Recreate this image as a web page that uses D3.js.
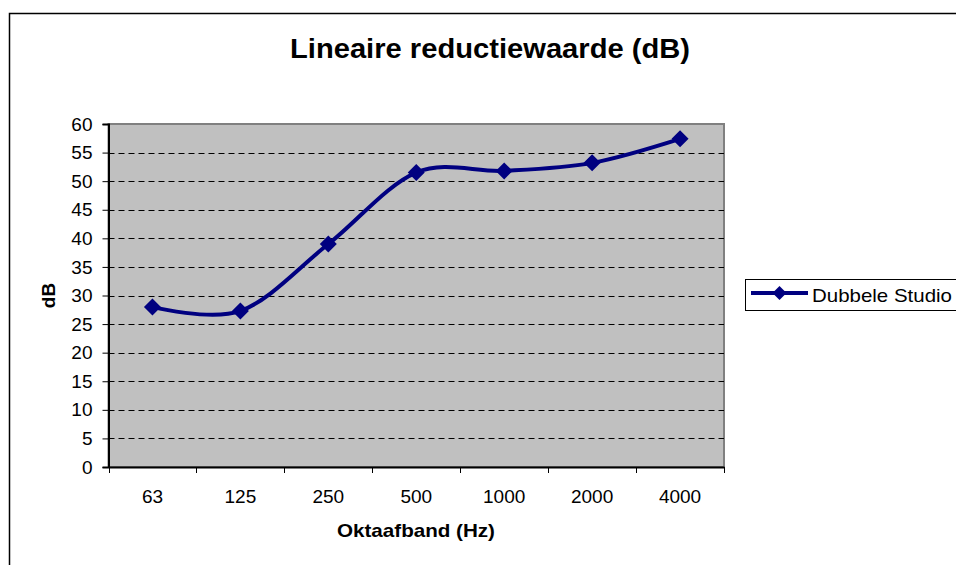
<!DOCTYPE html>
<html><head><meta charset="utf-8">
<script src="https://cdn.jsdelivr.net/npm/d3@7"></script>
<style>body{margin:0;background:#fff}svg{display:block}text{font-family:"Liberation Sans",Arial,sans-serif}</style>
</head><body>
<script>
const categories = ["63","125","250","500","1000","2000","4000"];
const values = [28, 27.3, 39, 51.5, 51.8, 53.2, 57.4];
const yTicks = [0,5,10,15,20,25,30,35,40,45,50,55,60];
const seriesName = "Dubbele Studio";
const title = "Lineaire reductiewaarde (dB)";
const xTitle = "Oktaafband (Hz)";
const yTitle = "dB";

const W = 956, H = 565;
const FONT = "Liberation Sans, Arial, sans-serif";
const svg = d3.select("body").append("svg").attr("width", W).attr("height", H);
svg.append("rect").attr("x",9.5).attr("y",13.5).attr("width",980).attr("height",600)
  .attr("fill","#fff").attr("stroke","#000").attr("stroke-width",1.5);

const L = 108.5, R = 724, T = 124, B = 467;
const x = d3.scaleBand().domain(categories).range([L, R]).padding(0);
const y = d3.scaleLinear().domain([0,60]).range([B, T]);

svg.append("rect").attr("x",L).attr("y",T).attr("width",R-L).attr("height",B-T)
  .attr("fill","#C0C0C0").attr("stroke","#808080").attr("stroke-width",2);

// grid
svg.append("g").selectAll("line").data(yTicks.filter(d=>d>0 && d<60)).join("line")
  .attr("x1",L).attr("x2",R).attr("y1",d=>Math.round(y(d))+0.5).attr("y2",d=>Math.round(y(d))+0.5)
  .attr("stroke","#000").attr("stroke-width",1).attr("stroke-dasharray","6,4");

// y axis
const ya = svg.append("g").attr("transform",`translate(${L},0)`)
  .call(d3.axisLeft(y).tickValues(yTicks).tickSize(6).tickPadding(10));
ya.select(".domain").attr("stroke","#000").attr("stroke-width",2);
ya.selectAll(".tick line").attr("stroke","#000");
ya.selectAll("text").attr("font-size",19).attr("fill","#000").style("font-family",FONT);

// x axis
const xa = svg.append("g").attr("transform",`translate(0,${B})`)
  .call(d3.axisBottom(x).tickSize(0).tickPadding(23));
xa.select(".domain").attr("stroke","#000").attr("stroke-width",2);
xa.selectAll("text").attr("font-size",19).attr("fill","#000").style("font-family",FONT);
svg.append("g").selectAll("line").data(d3.range(categories.length+1)).join("line")
  .attr("x1",i=>Math.round(L + i*x.bandwidth())+0.5).attr("x2",i=>Math.round(L + i*x.bandwidth())+0.5)
  .attr("y1",B).attr("y2",B+6).attr("stroke","#000");

// line
const cx = d => x(d) + x.bandwidth()/2;
const line = d3.line().x((d,i)=>cx(categories[i])).y(d=>y(d)).curve(d3.curveCardinal.tension(0));
svg.append("path").datum(values).attr("d",line).attr("fill","none")
  .attr("stroke","#000080").attr("stroke-width",4);
const diamond = s => `M0,${-s}L${s},0L0,${s}L${-s},0Z`;
svg.append("g").selectAll("path").data(values).join("path")
  .attr("transform",(d,i)=>`translate(${cx(categories[i])},${y(d)})`)
  .attr("d",diamond(8.5)).attr("fill","#000080");

// titles
svg.append("text").attr("x",490).attr("y",58).attr("text-anchor","middle")
  .attr("font-size",27).attr("font-weight","bold")
  .attr("textLength",400).attr("lengthAdjust","spacingAndGlyphs").text(title);
svg.append("text").attr("x",416).attr("y",537).attr("text-anchor","middle")
  .attr("font-size",19).attr("font-weight","bold")
  .attr("textLength",158).attr("lengthAdjust","spacingAndGlyphs").text(xTitle);
svg.append("text").attr("transform","translate(55,295.5) rotate(-90)").attr("text-anchor","middle")
  .attr("font-size",19).attr("font-weight","bold").text(yTitle);

// legend
const lg = svg.append("g");
lg.append("rect").attr("x",745.5).attr("y",279.5).attr("width",215).attr("height",31)
  .attr("fill","#fff").attr("stroke","#000").attr("stroke-width",1);
lg.append("line").attr("x1",751).attr("x2",808).attr("y1",293).attr("y2",293)
  .attr("stroke","#000080").attr("stroke-width",4);
lg.append("path").attr("transform","translate(779.5,293)").attr("d",diamond(7)).attr("fill","#000080");
lg.append("text").attr("x",812).attr("y",301.5).attr("font-size",19)
  .attr("textLength",140).attr("lengthAdjust","spacingAndGlyphs").text(seriesName);
</script>
</body></html>
